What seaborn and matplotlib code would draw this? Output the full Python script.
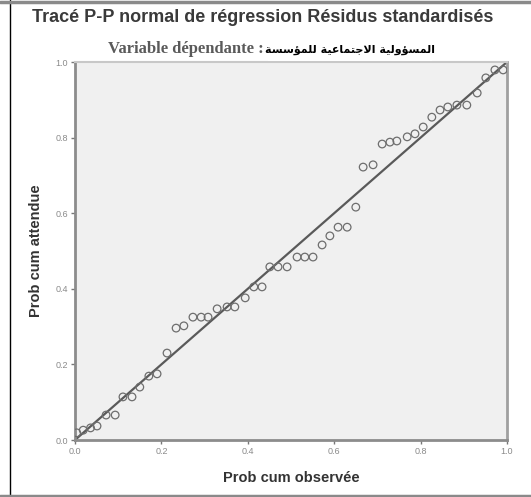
import matplotlib
matplotlib.use("Agg")
import matplotlib.pyplot as plt
from matplotlib.lines import Line2D
from matplotlib.patches import Rectangle
import seaborn as sns
import pandas as pd

# ---- data ----
observed = [0.004, 0.019, 0.036, 0.051, 0.072, 0.093, 0.111, 0.132, 0.150, 0.171,
            0.190, 0.213, 0.234, 0.252, 0.273, 0.292, 0.308, 0.329, 0.352, 0.370,
            0.394, 0.414, 0.433, 0.451, 0.470, 0.491, 0.514, 0.532, 0.551, 0.572,
            0.590, 0.609, 0.630, 0.650, 0.667, 0.690, 0.711, 0.729, 0.745, 0.769,
            0.787, 0.806, 0.826, 0.845, 0.863, 0.884, 0.907, 0.931, 0.951, 0.972,
            0.991]
expected = [0.019, 0.026, 0.032, 0.037, 0.066, 0.066, 0.114, 0.114, 0.140, 0.169,
            0.175, 0.230, 0.296, 0.302, 0.325, 0.325, 0.325, 0.347, 0.352, 0.352,
            0.376, 0.405, 0.405, 0.458, 0.458, 0.458, 0.484, 0.484, 0.484, 0.516,
            0.540, 0.563, 0.563, 0.616, 0.722, 0.728, 0.783, 0.788, 0.791, 0.802,
            0.810, 0.828, 0.854, 0.873, 0.881, 0.886, 0.886, 0.918, 0.958, 0.979,
            0.979]
diag_x = [0.0, 1.0]
diag_y = [0.0, 1.0]
tick_values = [0.0, 0.2, 0.4, 0.6, 0.8, 1.0]
tick_labels = ["0.0", "0.2", "0.4", "0.6", "0.8", "1.0"]

title = "Tracé P-P normal de régression Résidus standardisés"
subtitle = "Variable dépendante :"
dep_var = "المسؤولية الاجتماعية للمؤسسة"
xlabel = "Prob cum observée"
ylabel = "Prob cum attendue"

# ---- minimal Arabic shaping (matplotlib has no complex text layout) ----
FORMS = {  # isolated, final, initial, medial
    "\u0627": ("\uFE8D", "\uFE8E", None, None),
    "\u0644": ("\uFEDD", "\uFEDE", "\uFEDF", "\uFEE0"),
    "\u0645": ("\uFEE1", "\uFEE2", "\uFEE3", "\uFEE4"),
    "\u0633": ("\uFEB1", "\uFEB2", "\uFEB3", "\uFEB4"),
    "\u0624": ("\uFE85", "\uFE86", None, None),
    "\u0648": ("\uFEED", "\uFEEE", None, None),
    "\u064A": ("\uFEF1", "\uFEF2", "\uFEF3", "\uFEF4"),
    "\u0629": ("\uFE93", "\uFE94", None, None),
    "\u062C": ("\uFE9D", "\uFE9E", "\uFE9F", "\uFEA0"),
    "\u062A": ("\uFE95", "\uFE96", "\uFE97", "\uFE98"),
    "\u0639": ("\uFEC9", "\uFECA", "\uFECB", "\uFECC"),
}


def joins_next(c):
    return c in FORMS and FORMS[c][2] is not None


def shape(text):
    out = []
    chars = list(text)
    i = 0
    while i < len(chars):
        c = chars[i]
        if c not in FORMS:
            out.append(c)
            i += 1
            continue
        prev_j = i > 0 and joins_next(chars[i - 1])
        # lam-alef ligature
        if c == "\u0644" and i + 1 < len(chars) and chars[i + 1] == "\u0627":
            out.append("\uFEFC" if prev_j else "\uFEFB")
            i += 2
            continue
        nxt = chars[i + 1] if i + 1 < len(chars) else None
        next_j = joins_next(c) and nxt in FORMS
        iso, fin, ini, med = FORMS[c]
        if prev_j and next_j:
            out.append(med)
        elif prev_j:
            out.append(fin)
        elif next_j:
            out.append(ini)
        else:
            out.append(iso)
        i += 1
    return "".join(reversed(out))


# ---- figure ----
sns.set_theme(style="white")
plt.rcParams["font.family"] = ["Liberation Sans", "DejaVu Sans"]

fig = plt.figure(figsize=(5.31, 4.97), dpi=100)
ax = fig.add_axes([75 / 531, 1 - 440 / 497, 432 / 531, 378 / 497])
ax.set_facecolor("#f0f0f0")

df = pd.DataFrame({"obs": observed, "exp": expected})
sns.lineplot(x=diag_x, y=diag_y, ax=ax, color="#5a5a5a", linewidth=1.6, zorder=2)
sns.scatterplot(data=df, x="obs", y="exp", ax=ax, marker="o", s=30,
                facecolor="none", edgecolor="#6e6e6e", linewidth=0.9, zorder=3)

ax.set_xlim(0, 1)
ax.set_ylim(0, 1)
ax.set_xticks(tick_values)
ax.set_xticklabels(tick_labels)
ax.set_yticks(tick_values)
ax.set_yticklabels(tick_labels)
ax.tick_params(axis="both", direction="out", length=3, width=1.0, color="#777777",
               labelsize=6.5, labelcolor="#8a8a8a", pad=2, bottom=True, left=True)

for side in ["left", "bottom"]:
    ax.spines[side].set_color("#8c8c8c")
    ax.spines[side].set_linewidth(2.0)
ax.spines["right"].set_color("#a0a0a0")
ax.spines["right"].set_linewidth(2.0)
ax.spines["top"].set_color("#c8c8c8")
ax.spines["top"].set_linewidth(1.5)

ax.set_xlabel(xlabel, fontsize=10.5, fontweight="bold", color="#333333", labelpad=11)
ax.set_ylabel(ylabel, fontsize=10.5, fontweight="bold", color="#333333", labelpad=9)

fig.text(263 / 531, 1 - 18 / 497, title, ha="center", va="center",
         fontsize=13, fontweight="bold", color="#3a3a3a")
fig.text(264 / 531, 1 - 49 / 497, subtitle, ha="right", va="center",
         fontsize=12, fontweight="bold", color="#5a5a5a", family="Liberation Serif")

fig.add_artist(Rectangle((268 / 531, 1 - 61 / 497), 164 / 531, 21 / 497,
                         transform=fig.transFigure, facecolor="white",
                         edgecolor="none", zorder=5))
fig.text(350 / 531, 1 - 50 / 497, shape(dep_var), ha="center", va="center",
         fontsize=8, fontweight="bold", color="black", family="DejaVu Sans",
         zorder=6)

# outer frame of the screenshot
fig.add_artist(Line2D([10 / 531, 10 / 531], [0, 1], transform=fig.transFigure,
                      color="black", linewidth=1.0))
fig.add_artist(Line2D([0, 1], [1 - 2 / 497, 1 - 2 / 497], transform=fig.transFigure,
                      color="#8a8a8a", linewidth=2.5))
fig.add_artist(Line2D([0, 1], [1 / 497, 1 / 497], transform=fig.transFigure,
                      color="#8a8a8a", linewidth=2.5))

fig.savefig("out.png", dpi=100)
